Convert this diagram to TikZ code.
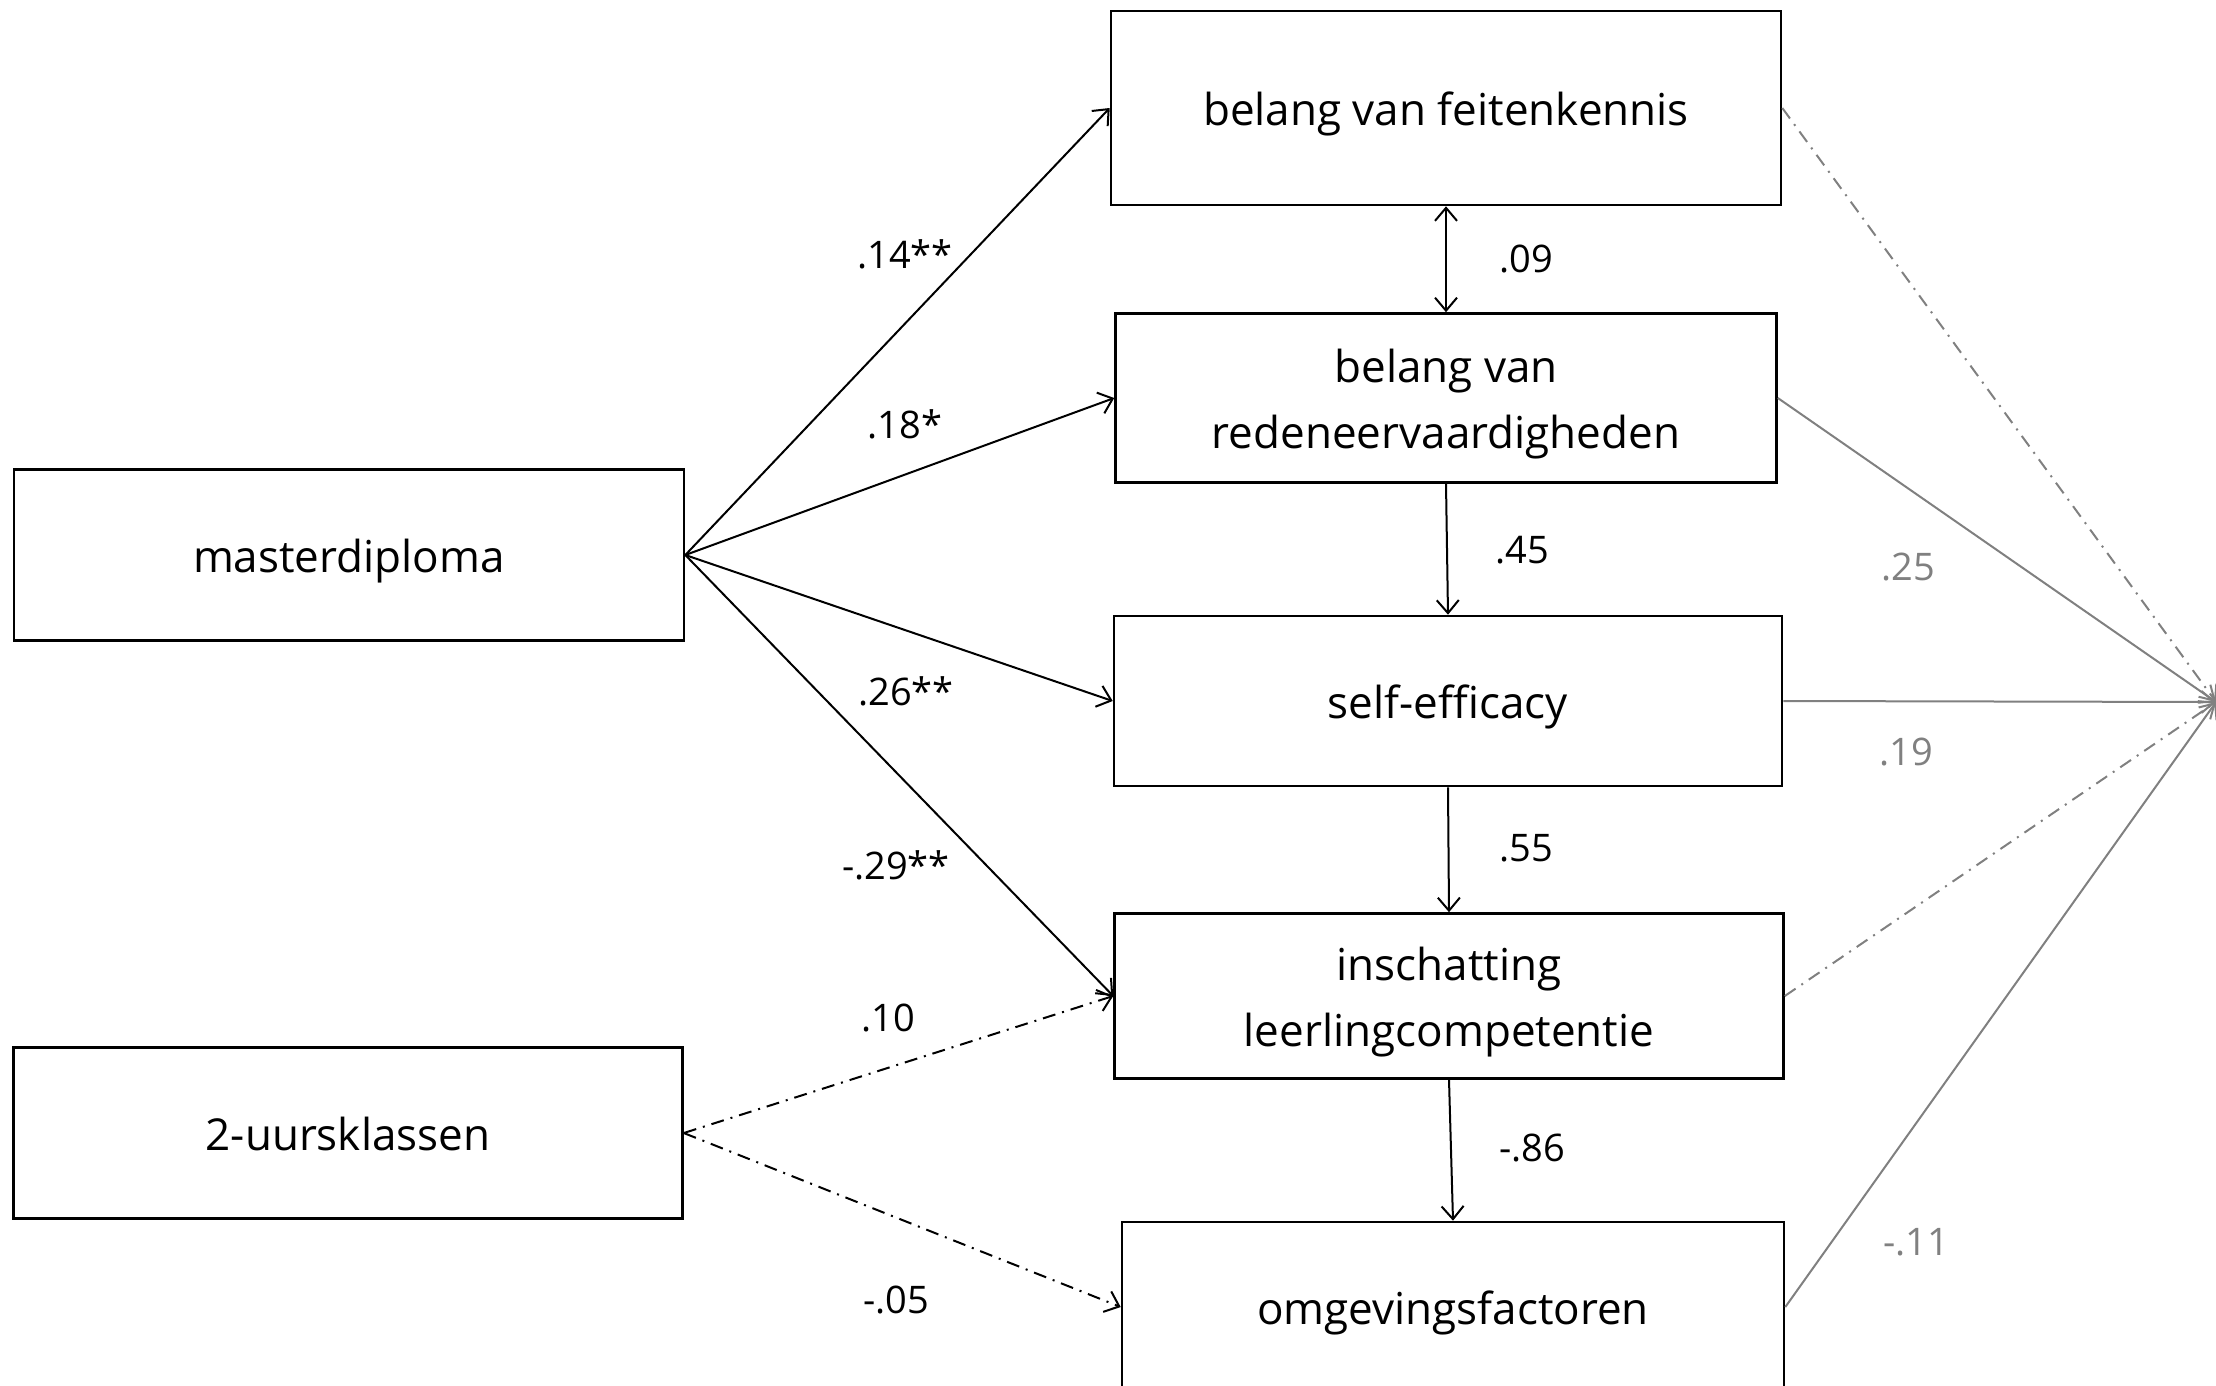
\documentclass[tikz,border=0pt]{standalone}
\usepackage{fontspec}
\setmainfont{Open Sans}
\usetikzlibrary{arrows.meta}
\definecolor{pathgray}{HTML}{808080}
\newcommand\boxstrut{\rule[-10pt]{0pt}{55pt}}
\begin{document}
\begin{tikzpicture}[x=1pt,y=-1pt,
  box/.style={draw=black,line width=2.6pt,rectangle,inner sep=0pt,align=center,
    font=\fontsize{44}{66}\selectfont},
  lab/.style={font=\fontsize{38}{46}\selectfont,inner sep=0pt},
  glab/.style={lab,text=pathgray},
  arr/.style={line width=2pt,-{Straight Barb[length=13pt,width=22pt,line width=2pt]}},
  darr/.style={line width=2pt,{Straight Barb[length=13pt,width=22pt,line width=2pt]}-{Straight Barb[length=13pt,width=22pt,line width=2pt]}},
  dd/.style={dash pattern=on 13pt off 7pt on 2pt off 7pt},
  garr/.style={arr,draw=pathgray,line width=2pt,-{Straight Barb[length=13pt,width=22pt,line width=2pt]}},
]
\useasboundingbox (0,0) rectangle (2216,1385);
\clip (0,0) rectangle (2216,1385);

\node[box,minimum width=670pt,minimum height=194pt] (feit) at (1446,108) {\boxstrut belang van feitenkennis};
\node[box,minimum width=661pt,minimum height=169pt] (red) at (1446,398) {\boxstrut belang van\\\boxstrut redeneervaardigheden};
\node[box,minimum width=668pt,minimum height=170pt] (self) at (1448,701) {\boxstrut self-efficacy};
\node[box,minimum width=669pt,minimum height=165pt] (insch) at (1449,996) {\boxstrut inschatting\\\boxstrut leerlingcompetentie};
\node[box,minimum width=662pt,minimum height=170pt] (omg) at (1453,1307) {\boxstrut omgevingsfactoren};
\node[box,minimum width=670pt,minimum height=171pt] (master) at (349,555) {\boxstrut masterdiploma};
\node[box,minimum width=669pt,minimum height=171pt] (uurs) at (348,1133) {\boxstrut 2-uursklassen};
\coordinate (conv) at (2216,702);

% from masterdiploma
\draw[arr] (master.east) -- (feit.west);
\draw[arr] (master.east) -- (red.west);
\draw[arr] (master.east) -- (self.west);
\draw[arr] (master.east) -- (insch.west);
% from 2-uursklassen
\draw[arr,dd] (uurs.east) -- (insch.west);
\draw[arr,dd] (uurs.east) -- (omg.west);
% vertical
\draw[darr] (feit.south) -- (red.north);
\draw[arr] (red.south) -- (self.north);
\draw[arr] (self.south) -- (insch.north);
\draw[arr] (insch.south) -- (omg.north);
% gray to right
\draw[garr,dd] (feit.east) -- (conv);
\draw[garr] (red.east) -- (conv);
\draw[garr] (self.east) -- (conv);
\draw[garr,dd] (insch.east) -- (conv);
\draw[garr] (omg.east) -- (conv);

% labels
\node[lab] (l1) at (905,254) {.14**};
\node[lab] (l2) at (905,424) {.18*};
\node[lab] (l3) at (906,691) {.26**};
\node[lab] (l4) at (896,865) {-.29**};
\node[lab] (l5) at (888,1018) {.10};
\node[lab] (l6) at (896,1300) {-.05};
\node[lab] (l7) at (1526,259) {.09};
\node[lab] (l8) at (1522,550) {.45};
\node[lab] (l9) at (1526,848) {.55};
\node[lab] (l10) at (1532,1148) {-.86};
\node[glab] (l11) at (1908,567) {.25};
\node[glab] (l12) at (1906,752) {.19};
\node[glab] (l13) at (1916,1242) {-.11};
\end{tikzpicture}
\end{document}
